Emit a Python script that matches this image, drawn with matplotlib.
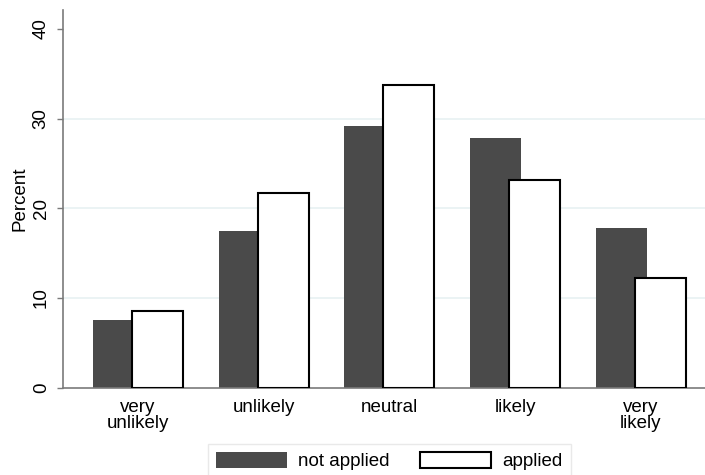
import numpy as np
import matplotlib
matplotlib.use('Agg')
import matplotlib.pyplot as plt

plt.rcParams['font.family'] = ['Liberation Sans', 'DejaVu Sans']

categories = ['very\nunlikely', 'unlikely', 'neutral', 'likely', 'very\nlikely']
not_applied = [7.5, 17.5, 29.2, 27.8, 17.8]
applied = [8.6, 21.7, 33.7, 23.1, 12.2]

dark = '#4a4a4a'
axis_gray = '#7a7a7a'
fs = 13.5

fig = plt.figure(figsize=(7.05, 4.75), dpi=100)
ax = fig.add_axes([63 / 705, 87.3 / 475, 642 / 705, 377.7 / 475])

x = np.arange(len(categories))
w = 0.405
ax.bar(x - 0.358, not_applied, width=w, align='edge', color=dark,
       edgecolor='none', label='not applied', zorder=2)
ax.bar(x - 0.048, applied, width=w, align='edge', color='white',
       edgecolor='black', linewidth=1.5, label='applied', zorder=3)

for g in [10, 20, 30]:
    ax.axhline(g, color='#e8f1f2', linewidth=1.2, zorder=1)

ax.set_xlim(-0.596, 4.51)
ax.set_ylim(0, 42.1)
ax.set_yticks([0, 10, 20, 30, 40])
ax.set_yticklabels(['0', '10', '20', '30', '40'], rotation=90, va='center',
                   fontsize=fs)
ax.set_xticks(x)
ax.set_xticklabels(categories, fontsize=fs, linespacing=0.9)
ax.tick_params(axis='x', length=0, pad=8)
ax.tick_params(axis='y', length=4.5, width=1, color=axis_gray, pad=5)
ax.set_ylabel('Percent', fontsize=fs, labelpad=3)

for s in ['top', 'right']:
    ax.spines[s].set_visible(False)
for s in ['left', 'bottom']:
    ax.spines[s].set_color(axis_gray)
    ax.spines[s].set_linewidth(1.2)

leg = fig.legend(loc='upper left', bbox_to_anchor=(208 / 705, 1 - 444 / 475),
                 ncol=2, fontsize=fs, frameon=True, fancybox=False,
                 handlelength=3.8, handleheight=0.96, handletextpad=0.6,
                 columnspacing=1.6, borderpad=0.42, borderaxespad=0)
leg.get_frame().set_edgecolor('#e4e4e4')
leg.get_frame().set_linewidth(1)

fig.savefig('out.png', dpi=100)
